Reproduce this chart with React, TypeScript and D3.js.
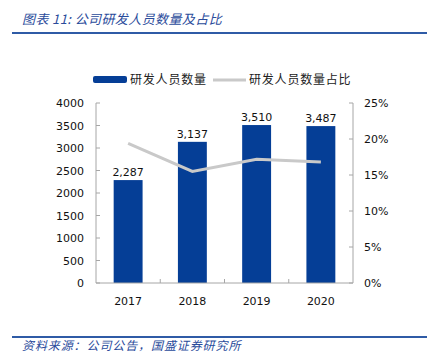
import React from "react";
import * as d3 from "d3";

const years = ["2017", "2018", "2019", "2020"];
const staff = [2287, 3137, 3510, 3487];
const staffShare = [0.194, 0.155, 0.172, 0.168];
const leftTicks = [0, 500, 1000, 1500, 2000, 2500, 3000, 3500, 4000];
const rightTicks = [0, 0.05, 0.1, 0.15, 0.2, 0.25];
const titleText = "图表 11:  公司研发人员数量及占比";
const sourceText = "资料来源：公司公告，国盛证券研究所";
const legendBar = "研发人员数量";
const legendLine = "研发人员数量占比";

const W = 427;
const H = 357;
const left = 96;
const right = 353;
const top = 103;
const bottom = 283;
const barColor = "#053e96";
const lineColor = "#c9c9c9";
const axisColor = "#a6a6a6";
const titleColor = "#2a4b9b";
const numFont = "DejaVu Sans, Verdana, sans-serif";
const cjkFont = "'Noto Sans CJK SC', sans-serif";

export default function App() {
  const x = d3.scaleBand<string>().domain(years).range([left, right]).paddingInner(0.55).paddingOuter(0.275);
  const yL = d3.scaleLinear().domain([0, 4000]).range([bottom, top]);
  const yR = d3.scaleLinear().domain([0, 0.25]).range([bottom, top]);
  const line = d3
    .line<number>()
    .x((_, i) => (x(years[i]) as number) + x.bandwidth() / 2)
    .y((d) => yR(d));
  const fmt = d3.format(",");
  const pct = d3.format(".0%");
  const step = x.step();

  return (
    <svg width={W} height={H} style={{ position: "absolute", left: 0, top: 0, background: "#fff" }}>
      <text x={22} y={24} fontFamily={cjkFont} fontStyle="italic" fontSize={13} letterSpacing={0.4} fill={titleColor}>
        {titleText}
      </text>
      <line x1={12} x2={427} y1={33} y2={33} stroke="#2f5ba6" strokeWidth={2} />

      {/* legend */}
      <rect x={93} y={76} width={34} height={7} rx={2} fill={barColor} />
      <text x={130} y={84} fontFamily={cjkFont} fontSize={12} letterSpacing={0.8} fill="#222">{legendBar}</text>
      <line x1={213} x2={246} y1={80} y2={80} stroke={lineColor} strokeWidth={3} />
      <text x={249} y={84} fontFamily={cjkFont} fontSize={12} letterSpacing={0.8} fill="#222">{legendLine}</text>

      {/* bars */}
      {staff.map((v, i) => (
        <rect key={years[i]} x={x(years[i])} y={yL(v)} width={x.bandwidth()} height={bottom - yL(v)} fill={barColor} />
      ))}
      {staff.map((v, i) => (
        <text key={"l" + years[i]} x={(x(years[i]) as number) + x.bandwidth() / 2} y={yL(v) - 4} textAnchor="middle" fontFamily={numFont} fontSize={11} fill="#111">
          {fmt(v)}
        </text>
      ))}

      {/* line */}
      <path d={line(staffShare) || ""} fill="none" stroke={lineColor} strokeWidth={3} />

      {/* left axis */}
      <line x1={left} x2={left} y1={top} y2={bottom} stroke={axisColor} />
      {leftTicks.map((t) => (
        <g key={"lt" + t}>
          <line x1={left} x2={left + 4} y1={yL(t)} y2={yL(t)} stroke={axisColor} />
          <text x={84} y={yL(t) + 4} textAnchor="end" fontFamily={numFont} fontSize={11} fill="#111">{t}</text>
        </g>
      ))}

      {/* right axis */}
      <line x1={right} x2={right} y1={top} y2={bottom} stroke={axisColor} />
      {rightTicks.map((t) => (
        <g key={"rt" + t}>
          <line x1={right - 4} x2={right} y1={yR(t)} y2={yR(t)} stroke={axisColor} />
          <text x={364} y={yR(t) + 4} textAnchor="start" fontFamily={numFont} fontSize={11} fill="#111">{pct(t)}</text>
        </g>
      ))}

      {/* x axis */}
      <line x1={left} x2={right} y1={bottom} y2={bottom} stroke={axisColor} />
      {years.slice(1).map((yr) => (
        <line key={"xt" + yr} x1={(x(yr) as number) - (step - x.bandwidth()) / 2} x2={(x(yr) as number) - (step - x.bandwidth()) / 2} y1={bottom} y2={bottom - 4} stroke={axisColor} />
      ))}
      {years.map((yr) => (
        <text key={"xl" + yr} x={(x(yr) as number) + x.bandwidth() / 2} y={305} textAnchor="middle" fontFamily={numFont} fontSize={11} fill="#111">{yr}</text>
      ))}

      <line x1={12} x2={427} y1={337} y2={337} stroke="#2f5ba6" strokeWidth={2} />
      <text x={22} y={350} fontFamily={cjkFont} fontStyle="italic" fontSize={12} letterSpacing={0.9} fill={titleColor}>
        {sourceText}
      </text>
    </svg>
  );
}
